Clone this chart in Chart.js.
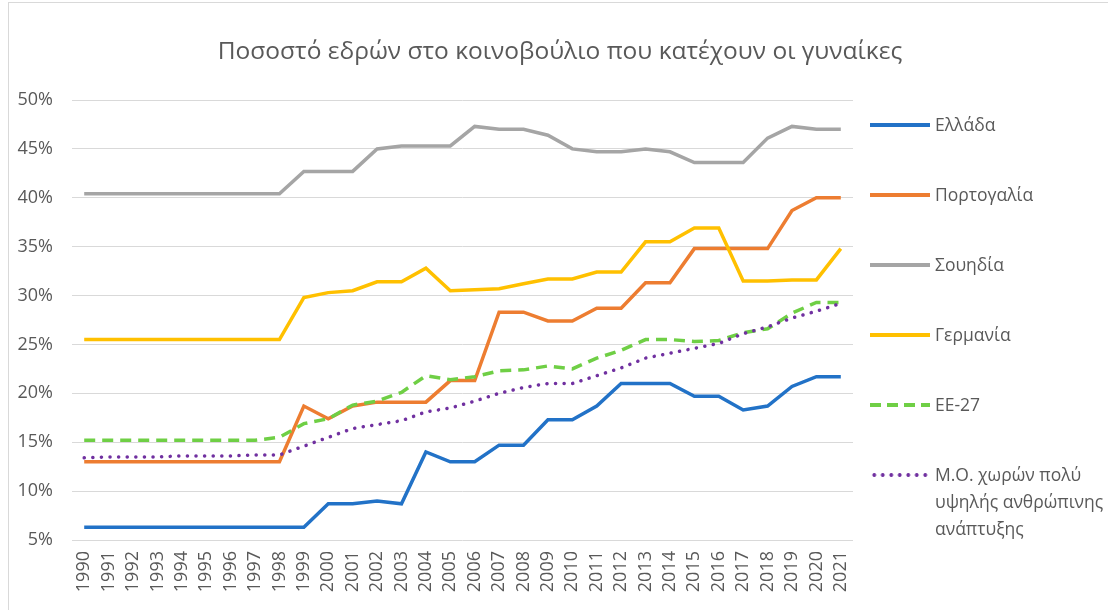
<!DOCTYPE html>
<html lang="el">
<head>
<meta charset="UTF-8">
<title>Ποσοστό εδρών στο κοινοβούλιο</title>
<script src="https://cdn.jsdelivr.net/npm/chart.js"></script>
<style>
    html, body { margin: 0; padding: 0; background: #fff; }
    #wrap { position: relative; width: 1108px; height: 610px; overflow: hidden; font-family: "Open Sans", sans-serif; }
    #frame { position: absolute; left: 8px; top: 2px; width: 1110px; height: 620px; border: 1px solid #d9d9d9; }
    #title { position: absolute; left: 0; width: 1120px; top: 33px; text-align: center; font-size: 24.5px; color: #595959; }
    #chart { position: absolute; left: 0; top: 0; }
    .legend { position: absolute; left: 870px; font-size: 17.5px; color: #595959; line-height: 27px; }
    .legend .sample { position: absolute; left: 0; width: 60px; height: 4px; top: 12px; }
    .legend .txt { position: absolute; left: 65px; top: 0; white-space: nowrap; }
</style>
</head>
<body>
<div id="wrap">
    <div id="frame"></div>
    <canvas id="chart" width="1108" height="610"></canvas>
    <div id="title">Ποσοστό εδρών στο κοινοβούλιο που κατέχουν οι γυναίκες</div>
    <div id="legend"></div>
</div>

<script>
// data (percent)
const years = ['1990','1991','1992','1993','1994','1995','1996','1997','1998','1999','2000','2001','2002','2003','2004','2005',
               '2006','2007','2008','2009','2010','2011','2012','2013','2014','2015','2016','2017','2018','2019','2020','2021'];

const greece   = [6.3,6.3,6.3,6.3,6.3,6.3,6.3,6.3,6.3,6.3,8.7,8.7,9.0,8.7,14.0,13.0,
                  13.0,14.7,14.7,17.3,17.3,18.7,21.0,21.0,21.0,19.7,19.7,18.3,18.7,20.7,21.7,21.7];
const portugal = [13.0,13.0,13.0,13.0,13.0,13.0,13.0,13.0,13.0,18.7,17.4,18.7,19.1,19.1,19.1,21.3,
                  21.3,28.3,28.3,27.4,27.4,28.7,28.7,31.3,31.3,34.8,34.8,34.8,34.8,38.7,40.0,40.0];
const sweden   = [40.4,40.4,40.4,40.4,40.4,40.4,40.4,40.4,40.4,42.7,42.7,42.7,45.0,45.3,45.3,45.3,
                  47.3,47.0,47.0,46.4,45.0,44.7,44.7,45.0,44.7,43.6,43.6,43.6,46.1,47.3,47.0,47.0];
const germany  = [25.5,25.5,25.5,25.5,25.5,25.5,25.5,25.5,25.5,29.8,30.3,30.5,31.4,31.4,32.8,30.5,
                  30.6,30.7,31.2,31.7,31.7,32.4,32.4,35.5,35.5,36.9,36.9,31.5,31.5,31.6,31.6,34.8];
const eu27     = [15.2,15.2,15.2,15.2,15.2,15.2,15.2,15.2,15.5,16.9,17.4,18.8,19.2,20.1,21.8,21.4,
                  21.7,22.3,22.4,22.8,22.5,23.6,24.4,25.5,25.5,25.3,25.4,26.2,26.6,28.2,29.3,29.3];
const vhhd     = [13.4,13.5,13.5,13.5,13.6,13.6,13.6,13.7,13.7,14.6,15.5,16.4,16.8,17.2,18.1,18.5,
                  19.2,20.0,20.6,21.0,21.0,21.8,22.6,23.6,24.1,24.6,25.1,26.1,26.8,27.7,28.4,29.2];

const series = [
    { name: 'Ελλάδα', data: greece, color: '#2272c7', dash: [], top: 111 },
    { name: 'Πορτογαλία', data: portugal, color: '#ed7d31', dash: [], top: 181 },
    { name: 'Σουηδία', data: sweden, color: '#a5a5a5', dash: [], top: 251 },
    { name: 'Γερμανία', data: germany, color: '#ffc000', dash: [], top: 321 },
    { name: 'ΕΕ-27', data: eu27, color: '#6fcf45', dash: [11, 7], top: 391 },
    { name: 'Μ.Ο. χωρών πολύ<br>υψηλής ανθρώπινης<br>ανάπτυξης', data: vhhd, color: '#7030a0', dash: [0.1, 8.5], cap: 'round', top: 461 }
];

const ctx = document.getElementById('chart').getContext('2d');
new Chart(ctx, {
    type: 'line',
    data: {
        labels: years,
        datasets: series.map(s => ({
            label: s.name,
            data: s.data,
            borderColor: s.color,
            backgroundColor: s.color,
            borderWidth: 3.5,
            borderDash: s.dash,
            borderCapStyle: s.cap || 'butt',
            pointRadius: 0,
            tension: 0,
            fill: false
        })).reverse()
    },
    options: {
        responsive: false,
        animation: false,
        layout: { padding: { left: 8, top: 100, right: 255, bottom: 0 } },
        plugins: { legend: { display: false }, tooltip: { enabled: false } },
        scales: {
            x: {
                offset: true,
                grid: { display: false, drawTicks: false },
                border: { display: false },
                ticks: { color: '#595959', font: { family: 'Open Sans', size: 18 }, minRotation: 90, maxRotation: 90, padding: 11, autoSkip: false },
                afterFit: s => { s.height = 70; }
            },
            y: {
                min: 5,
                max: 50,
                grid: { color: '#d9d9d9', lineWidth: 1, drawTicks: false },
                border: { display: false },
                ticks: { stepSize: 5, color: '#595959', font: { family: 'Open Sans', size: 18 }, padding: 19, callback: v => v + '%' },
                afterFit: s => { s.width = 64; }
            }
        }
    }
});

// legend as html next to the plot
const lg = document.getElementById('legend');
series.forEach(s => {
    const d = document.createElement('div');
    d.className = 'legend';
    d.style.top = s.top + 'px';
    let style;
    if (s.cap) style = 'background: radial-gradient(circle, ' + s.color + ' 1.6px, transparent 2.2px) 0 0 / 8.5px 4px repeat-x;';
    else if (s.dash.length) style = 'background: repeating-linear-gradient(90deg, ' + s.color + ' 0 11px, transparent 11px 17px);';
    else style = 'background: ' + s.color + ';';
    d.innerHTML = '<div class="sample" style="' + style + '"></div><div class="txt">' + s.name + '</div>';
    lg.appendChild(d);
});
</script>
</body>
</html>
